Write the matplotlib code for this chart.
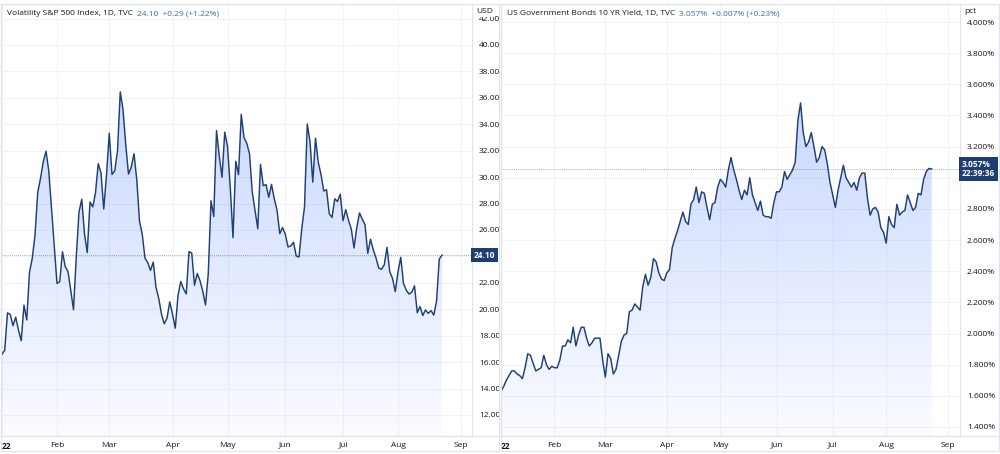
import numpy as np
import matplotlib
matplotlib.use("Agg")
import matplotlib.pyplot as plt
import matplotlib.transforms as mtransforms
from matplotlib.lines import Line2D

plt.rcParams['font.family'] = ['Open Sans', 'DejaVu Sans']

# daily closes, 2022 trading days
vix_close = [
    16.60, 16.91, 19.73, 19.61, 18.76, 19.40, 18.41, 17.62, 20.31, 19.19,
    22.79, 23.85, 25.59, 28.85, 29.90, 31.16, 31.96, 30.49, 27.66, 24.83,
    21.96, 22.09, 24.35, 23.22, 22.86, 21.44, 19.96, 23.91, 27.36, 28.33,
    25.70, 24.29, 28.11, 27.75, 28.81, 31.02, 30.32, 27.59, 30.15,
    33.32, 30.20, 30.48, 31.98, 36.45, 35.13, 32.45, 30.23, 30.75, 31.77,
    29.83, 26.67, 25.67, 23.87, 23.53, 22.94, 23.57, 21.67, 20.81, 19.63,
    18.90, 19.33, 20.56,
    19.63, 18.57, 21.03, 22.10, 21.55, 21.16, 24.37, 24.26, 21.82, 22.70,
    22.17, 21.37, 20.32, 22.68, 28.21, 27.02, 33.52, 31.60, 29.99, 33.40,
    32.34, 29.25, 25.42, 31.20, 30.19, 34.75, 32.99, 32.56, 31.77, 28.87,
    27.47, 26.10, 30.96, 29.35, 29.43, 28.48, 29.45, 28.37, 27.50, 25.72,
    26.19,
    25.69, 24.72, 24.79, 25.07, 24.02, 23.96, 26.09, 27.75, 34.02, 32.69,
    29.62, 32.95, 31.13, 30.19, 28.95, 29.05, 27.23, 26.95, 28.36, 28.16,
    28.71,
    26.70, 27.54, 26.73, 26.08, 24.64, 26.17, 27.29, 26.82, 26.40, 24.23,
    25.30, 24.50, 23.88, 23.11, 23.03, 23.36, 24.69, 22.84, 22.33, 21.33,
    22.84, 23.93, 21.95, 21.44, 21.15, 21.29, 21.77, 19.74, 20.20, 19.53,
    19.95, 19.69, 19.90, 19.56, 20.60, 23.80, 24.10,
]

us10y_close = [
    1.63, 1.66, 1.70, 1.73, 1.76, 1.76, 1.74, 1.73, 1.71, 1.78,
    1.87, 1.86, 1.81, 1.76, 1.77, 1.78, 1.86, 1.80, 1.77, 1.79,
    1.78, 1.78, 1.83, 1.92, 1.92, 1.96, 1.94, 2.04, 1.92, 1.99,
    2.04, 2.04, 1.97, 1.92, 1.94, 1.97, 1.97, 1.97, 1.83,
    1.72, 1.87, 1.84, 1.74, 1.77, 1.86, 1.95, 1.99, 2.00, 2.14,
    2.15, 2.19, 2.17, 2.15, 2.30, 2.38, 2.31, 2.36, 2.48, 2.46,
    2.39, 2.35, 2.34,
    2.39, 2.41, 2.55, 2.61, 2.66, 2.72, 2.78, 2.72, 2.70, 2.83,
    2.86, 2.94, 2.84, 2.91, 2.90, 2.81, 2.73, 2.83, 2.84, 2.94,
    2.99, 2.97, 2.94, 3.05, 3.13, 3.05, 2.99, 2.92, 2.86, 2.92,
    2.89, 3.00, 2.89, 2.84, 2.79, 2.85, 2.76, 2.75, 2.75, 2.74,
    2.84,
    2.91, 2.91, 2.94, 3.04, 2.99, 3.02, 3.05, 3.10, 3.37, 3.48,
    3.29, 3.20, 3.23, 3.29, 3.20, 3.10, 3.13, 3.20, 3.18, 3.09,
    2.97,
    2.89, 2.81, 2.92, 3.00, 3.08, 3.00, 2.97, 2.94, 2.97, 2.92,
    3.00, 3.03, 3.03, 2.87, 2.76, 2.80, 2.81, 2.78, 2.68, 2.65,
    2.58, 2.75, 2.70, 2.68, 2.83, 2.76, 2.78, 2.79, 2.89, 2.84,
    2.79, 2.81, 2.90, 2.89, 2.99, 3.04, 3.06, 3.057,
]

month_labels = ['22', 'Feb', 'Mar', 'Apr', 'May', 'Jun', 'Jul', 'Aug', 'Sep']
month_idx = [0, 20, 39, 62, 82, 103, 124, 144, 167]

vix_ticks = list(range(12, 44, 2))
us10y_ticks = [1.4, 1.6, 1.8, 2.0, 2.2, 2.4, 2.6, 2.8, 3.0, 3.2, 3.4, 3.6, 3.8, 4.0]

LINE = '#1f3f77'
GRID = '#f0f3fa'
BORDER = '#e0e3eb'
TXT = '#131722'
BLUE = '#3d68b5'

W, H = 1000, 454
fig = plt.figure(figsize=(W / 100, H / 100), dpi=100)
fig.patch.set_facecolor('white')


def px_axes(x0, x1, y0, y1):
    return fig.add_axes([x0 / W, 1 - y1 / H, (x1 - x0) / W, (y1 - y0) / H])


def area(ax, x, y, ylo):
    x = np.asarray(x, float)
    y = np.asarray(y, float)
    poly = ax.fill_between(x, y, ylo, color='none', lw=0)
    n = 256
    a = np.linspace(0.02, 0.25, n)
    img = np.zeros((n, 2, 4))
    img[..., 0] = 41 / 255
    img[..., 1] = 98 / 255
    img[..., 2] = 1.0
    img[..., 3] = a[:, None]
    im = ax.imshow(img, extent=[x[0], x[-1], ylo, y.max()], origin='lower',
                   aspect='auto', zorder=1, interpolation='bilinear')
    im.set_clip_path(poly.get_paths()[0], transform=ax.transData)
    ax.plot(x, y, color=LINE, lw=1.05, zorder=3, solid_joinstyle='round')


def pane(ax, vals, ylim, xlim, ticks, fmt, unit, title, change, box_text, hide_tol):
    x = np.arange(len(vals))
    last = vals[-1]
    ax.set_facecolor('white')
    area(ax, x, vals, ylim[0])
    ax.set_xlim(*xlim)
    ax.set_ylim(*ylim)
    ax.set_yticks(ticks)
    # the last-value box covers the tick label beneath it
    ax.set_yticklabels(['' if abs(t - last) < hide_tol else fmt % t for t in ticks])
    ax.yaxis.tick_right()
    ax.tick_params(axis='y', length=0, pad=5, labelsize=6, labelcolor=TXT)
    ax.set_xticks(month_idx)
    ax.set_xticklabels(month_labels)
    ax.tick_params(axis='x', length=0, pad=4, labelsize=6, labelcolor=TXT)
    for lab in ax.get_yticklabels():
        lab.set_horizontalalignment('left')
    ax.get_xticklabels()[0].set_horizontalalignment('left')
    ax.get_xticklabels()[0].set_fontweight('bold')
    ax.grid(True, color=GRID, lw=0.8, zorder=0)
    ax.set_axisbelow(True)
    for s in ax.spines.values():
        s.set_color(BORDER)
        s.set_linewidth(0.8)
    ax.axhline(last, color=LINE, lw=0.6, ls=(0, (1, 1.5)), alpha=0.55, zorder=2)
    tr = mtransforms.blended_transform_factory(ax.transAxes, ax.transData)
    ax.text(1.004, last, box_text, transform=tr, ha='left', va='center',
            fontsize=6, color='white', fontweight='bold', linespacing=1.1,
            bbox=dict(boxstyle='square,pad=0.3', fc='#1e3d74', ec='none'),
            clip_on=False, zorder=10)
    ax.text(1.01, 0.99, unit, transform=ax.transAxes, ha='left', va='top',
            fontsize=6, color=TXT, clip_on=False, zorder=10,
            bbox=dict(boxstyle='square,pad=0.15', fc='white', ec='none'))
    t1 = ax.text(0.012, 0.985, title, transform=ax.transAxes, ha='left',
                 va='top', fontsize=6, color=TXT, zorder=10)
    ax.annotate(change, xy=(1, 0), xycoords=t1, xytext=(3, 0),
                textcoords='offset points', ha='left', va='bottom',
                fontsize=6, color=BLUE, zorder=10)


ax1 = px_axes(1, 472, 4, 436)
pane(ax1, vix_close, (10.41, 43.1), (-0.36, 170.9), vix_ticks, '%.2f', 'USD',
     'Volatility S&P 500 Index, 1D, TVC', '24.10  +0.29 (+1.22%)', '24.10', 0.6)

ax2 = px_axes(501, 960, 4, 436)
pane(ax2, us10y_close, (1.342, 4.1156), (0.1, 171.6), us10y_ticks, '%.3f%%', 'pct',
     'US Government Bonds 10 YR Yield, 1D, TVC', '3.057%  +0.007% (+0.23%)',
     '3.057%\n22:39:36', 0.1)

# frame lines of the price-scale and time-scale strips
for x0, x1 in [(1, 499), (501, 999)]:
    for yy in [1 - 436 / H, 1 - 451 / H, 1 - 4 / H]:
        fig.add_artist(Line2D([x0 / W, x1 / W], [yy, yy], color=BORDER, lw=0.8))
    for xx in [x0, x1]:
        fig.add_artist(Line2D([xx / W, xx / W], [1 - 451 / H, 1 - 4 / H],
                              color=BORDER, lw=0.8))

fig.savefig('out.png', dpi=100, facecolor='white')
